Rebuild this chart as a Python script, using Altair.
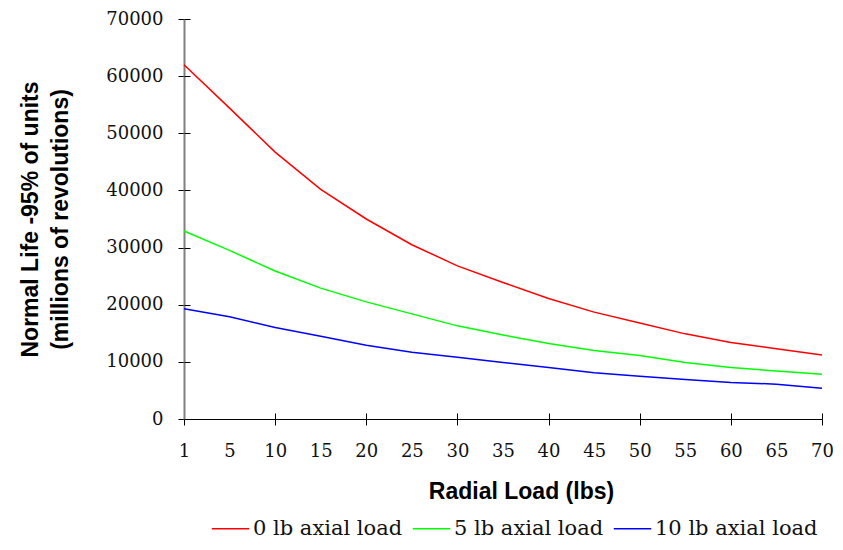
import altair as alt
import pandas as pd

loads = [1, 5, 10, 15, 20, 25, 30, 35, 40, 45, 50, 55, 60, 65, 70]
series_names = ["0 lb axial load", "5 lb axial load", "10 lb axial load"]
life_0lb = [62000, 54400, 46700, 40200, 35000, 30500, 26800, 23900, 21100, 18700, 16800, 14900, 13400, 12300, 11200]
life_5lb = [32900, 29500, 25900, 22900, 20500, 18400, 16300, 14700, 13200, 12000, 11100, 9900, 9000, 8400, 7850]
life_10lb = [19300, 17900, 16000, 14500, 12900, 11700, 10800, 9900, 9000, 8100, 7500, 6900, 6400, 6100, 5400]
colors = ["#FF0000", "#00FF00", "#0000FF"]
y_ticks = [0, 10000, 20000, 30000, 40000, 50000, 60000, 70000]

rows = []
for name, vals in zip(series_names, [life_0lb, life_5lb, life_10lb]):
    for l, v in zip(loads, vals):
        rows.append({"load": l, "life": v, "series": name})
df = pd.DataFrame(rows)

W, H = 638, 400
serif = "DejaVu Serif"
sans = "Liberation Sans"
tick_cond = {"condition": {"test": "datum.value == 1 || datum.value % 10 == 0", "value": 1}, "value": 0}

xscale = alt.Scale(type="point", padding=0, domain=loads)
yscale = alt.Scale(domain=[0, 70000], nice=False)

main = alt.Chart(df).mark_line(strokeWidth=1.5).encode(
    x=alt.X("load:O", scale=xscale, axis=alt.Axis(
        title="Radial Load (lbs)", labelAngle=0, labelFont=serif, labelFontSize=18,
        labelColor="#111", labelPadding=17, tickSize=6, tickColor="black",
        tickOpacity=tick_cond, domainColor="black", domainWidth=1,
        titleFont=sans, titleFontSize=23, titleFontWeight="bold", titleColor="black",
        titlePadding=20, titleX=337, grid=False)),
    y=alt.Y("life:Q", scale=yscale, axis=alt.Axis(
        title=["Normal Life -95% of units", "(millions of revolutions)"],
        values=y_ticks, format="d", labelFont=serif, labelFontSize=18, labelColor="#111",
        labelPadding=15, tickSize=6, tickColor="black", domainColor="#808080",
        domainWidth=2, titleFont=sans, titleFontSize=23, titleFontWeight="bold",
        titleColor="black", titlePadding=33, titleLineHeight=30, grid=False)),
    color=alt.Color("series:N", scale=alt.Scale(domain=series_names, range=colors),
                    sort=series_names,
                    legend=alt.Legend(title=None, orient="none", direction="horizontal",
                                      legendX=27, legendY=490, symbolType="stroke",
                                      symbolStrokeWidth=1.5, symbolSize=1400,
                                      labelFont=serif, labelFontSize=21, labelColor="#111",
                                      labelLimit=300, columnPadding=6, labelOffset=3)),
)

inner = alt.Chart(df).mark_line(opacity=0).encode(
    x=alt.X("load:O", scale=xscale, axis=alt.Axis(
        orient="top", offset=-H, labels=False, domain=False, title=None,
        tickSize=6, tickColor="black", tickOpacity=tick_cond, grid=False)),
    y=alt.Y("life:Q", scale=yscale, axis=alt.Axis(
        orient="right", offset=-W, labels=False, domain=False, title=None,
        values=y_ticks, tickSize=6, tickColor="black", grid=False)),
)

chart = alt.layer(main, inner).resolve_axis(x="independent", y="independent").properties(
    width=W, height=H,
    autosize=alt.AutoSizeParams(type="none"),
    padding={"left": 176, "top": 11, "right": 11, "bottom": 123},
).configure_view(stroke=None)

chart.save("out.html", embed_options={"renderer": "svg", "actions": False})
